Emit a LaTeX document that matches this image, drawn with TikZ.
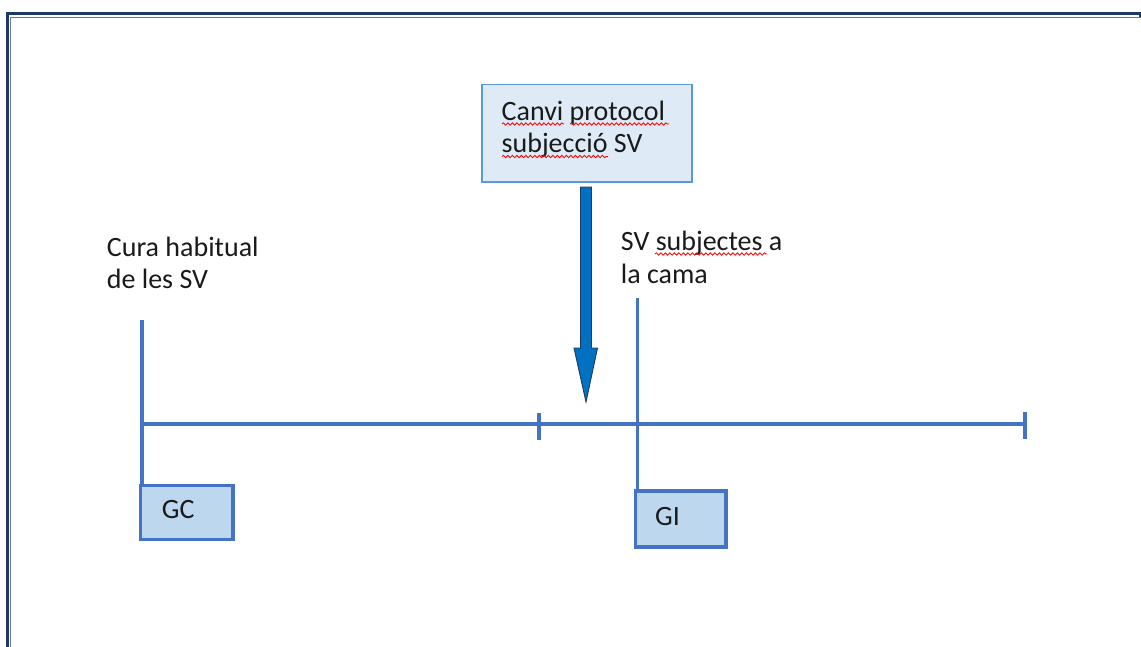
\documentclass[tikz,border=0pt]{standalone}
\usepackage{fontspec}
\setmainfont{Carlito}
\usetikzlibrary{decorations.pathmorphing}
\definecolor{lineblue}{HTML}{4472C4}
\definecolor{boxfill}{HTML}{BDD7EE}
\definecolor{topfill}{HTML}{DEEBF7}
\definecolor{topdraw}{HTML}{5B9BD5}
\definecolor{arrowfill}{HTML}{0070C0}
\definecolor{navy}{HTML}{1F3864}
\definecolor{navylight}{HTML}{5C79A6}
\definecolor{txt}{HTML}{1A1A1A}
\tikzset{
  tl/.style={draw=lineblue, line width=3.6pt},
  gbox/.style={draw=lineblue, line width=3.8pt, fill=boxfill, rectangle, inner sep=0pt},
  topbox/.style={draw=topdraw, line width=1.5pt, fill=topfill, rectangle, inner sep=0pt},
  lbl/.style={anchor=base west, inner sep=0pt, text=txt, font=\fontsize{28}{32}\selectfont},
  wavy/.style={draw=red, line width=0.8pt, decorate, decoration={snake, amplitude=1.2pt, segment length=4.5pt}},
}
\begin{document}
\begin{tikzpicture}[x=1pt,y=-1pt]
\useasboundingbox (0,0) rectangle (1141,646);
% page border
\begin{scope}
\clip (0,0) rectangle (1141,646);
\draw[navy, line width=2.6pt] (7.5,700) -- (7.5,13.5) -- (1139.8,13.5) -- (1139.8,17);
\draw[navylight, line width=1.3pt] (10.8,700) -- (10.8,17.3) -- (1141,17.3);
\end{scope}
% top box
\node[topbox, minimum width=210pt, minimum height=97.5pt, anchor=north west] (top) at (481,83.5) {};
\node[lbl] (top1) at (501.5,120) {Canvi protocol};
\node[lbl] (top2) at (501.5,152) {subjecció SV};
\draw[wavy] (502,124) -- (564,124);
\draw[wavy] (570,124) -- (669,124);
\draw[wavy] (502,156.5) -- (608,156.5);
% block arrow
\coordinate (ar) at (586,187);
\draw[fill=arrowfill, draw=navy, line width=0.9pt]
  (ar) ++(-5.5,0) -- ++(0,161) -- ++(-6.5,0) -- (586,402) -- (597.5,348) -- ++(-6,0) -- (591.5,187) -- cycle;
% labels
\node[lbl] (cura1) at (106.7,256.5) {Cura habitual};
\node[lbl] (cura2) at (106.7,288.5) {de les SV};
\node[lbl] (sv1) at (620.7,250.5) {SV subjectes a};
\node[lbl] (sv2) at (620.7,283) {la cama};
\draw[wavy] (655,254) -- (767,254);
% timeline
\coordinate (t0) at (142,424);
\coordinate (tk) at (539,424);
\coordinate (t1) at (1025,424);
\draw[tl] (t0) -- (t1);
\draw[tl] ([yshift=-16pt]tk) -- ([yshift=11pt]tk);
\draw[tl] ([yshift=-15pt]t1) -- ([yshift=12pt]t1);
% GC
\node[gbox, minimum width=92.5pt, minimum height=54pt, anchor=north west] (gc) at (138.5,483.5) {};
\node[lbl] (gct) at (161.7,518) {GC};
\coordinate (gcv) at (142,320);
\draw[tl] (gcv) -- (gcv |- gc.north);
% GI
\node[gbox, minimum width=90.5pt, minimum height=56pt, anchor=north west] (gi) at (633.5,489) {};
\node[lbl] (git) at (655,525) {GI};
\coordinate (giv) at (637.3,298);
\draw[tl] (giv) -- (giv |- gi.north);
\end{tikzpicture}
\end{document}
